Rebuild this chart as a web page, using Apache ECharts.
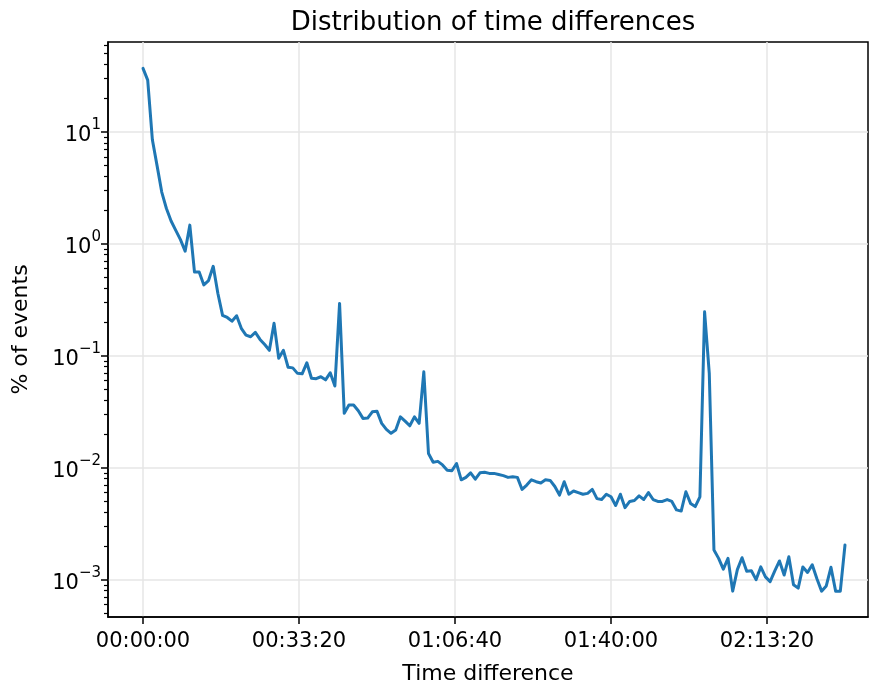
<!DOCTYPE html>
<html>
<head>
<meta charset="utf-8">
<script src="https://cdn.jsdelivr.net/npm/echarts@6/dist/echarts.min.js"></script>
<style>
  html, body { margin: 0; padding: 0; background: #fff; }
  #chart { width: 869px; height: 682px; }
</style>
</head>
<body>
<div id="chart"></div>
<script>
// Time difference bins (seconds, 1-minute bins)
const timeDiffSeconds = [
  0, 60, 120, 180, 240, 300, 360, 420, 480, 540,
  600, 660, 720, 780, 840, 900, 960, 1020, 1080, 1140,
  1200, 1260, 1320, 1380, 1440, 1500, 1560, 1620, 1680, 1740,
  1800, 1860, 1920, 1980, 2040, 2100, 2160, 2220, 2280, 2340,
  2400, 2460, 2520, 2580, 2640, 2700, 2760, 2820, 2880, 2940,
  3000, 3060, 3120, 3180, 3240, 3300, 3360, 3420, 3480, 3540,
  3600, 3660, 3720, 3780, 3840, 3900, 3960, 4020, 4080, 4140,
  4200, 4260, 4320, 4380, 4440, 4500, 4560, 4620, 4680, 4740,
  4800, 4860, 4920, 4980, 5040, 5100, 5160, 5220, 5280, 5340,
  5400, 5460, 5520, 5580, 5640, 5700, 5760, 5820, 5880, 5940,
  6000, 6060, 6120, 6180, 6240, 6300, 6360, 6420, 6480, 6540,
  6600, 6660, 6720, 6780, 6840, 6900, 6960, 7020, 7080, 7140,
  7200, 7260, 7320, 7380, 7440, 7500, 7560, 7620, 7680, 7740,
  7800, 7860, 7920, 7980, 8040, 8100, 8160, 8220, 8280, 8340,
  8400, 8460, 8520, 8580, 8640, 8700, 8760, 8820, 8880, 8940,
  9000
];

// Share of events per bin (%)
const pctEvents = [
  37, 29, 8.5, 5.0, 2.9, 2.07, 1.6, 1.32, 1.09, 0.86,
  1.47, 0.56, 0.56, 0.43, 0.47, 0.63, 0.36, 0.23, 0.22, 0.204,
  0.228, 0.176, 0.153, 0.148, 0.162, 0.14, 0.126, 0.112, 0.195, 0.095,
  0.112, 0.079, 0.078, 0.0697, 0.069, 0.0866, 0.063, 0.0625, 0.065, 0.061,
  0.0705, 0.0537, 0.294, 0.0306, 0.0363, 0.0363, 0.0323, 0.0276, 0.0278, 0.0316,
  0.032, 0.0249, 0.022, 0.0203, 0.0217, 0.0285, 0.0261, 0.0237, 0.0285, 0.0249,
  0.072, 0.0134, 0.0112, 0.0114, 0.0106, 0.0095, 0.0094, 0.0109, 0.0078, 0.0082,
  0.009, 0.0079, 0.009, 0.0091, 0.0089, 0.0089, 0.0087, 0.0085, 0.0082, 0.0083,
  0.0082, 0.0064, 0.0070, 0.0078, 0.0075, 0.0073, 0.0078, 0.0077, 0.0068, 0.0057,
  0.0075, 0.0058, 0.0062, 0.006, 0.0058, 0.0059, 0.0064, 0.0053, 0.0052, 0.0058,
  0.0055, 0.0046, 0.0058, 0.0044, 0.005, 0.0051, 0.0056, 0.0052, 0.006, 0.0052,
  0.005, 0.005, 0.0052, 0.005, 0.0042, 0.0041, 0.0061, 0.0048, 0.0045, 0.0055,
  0.247, 0.0697, 0.00184, 0.00155, 0.00124, 0.00155, 0.00079, 0.00123, 0.00157, 0.00119,
  0.0012, 0.001, 0.0013, 0.00106, 0.00096, 0.0012, 0.00147, 0.0011, 0.0016, 0.0009,
  0.00084, 0.0013, 0.00116, 0.00136, 0.00102, 0.00079, 0.00088, 0.00129, 0.00079, 0.00079,
  0.00204
];

// Tick positions
const xTickSeconds = [0, 2000, 4000, 6000, 8000];
const yMajorTicks = [1e-3, 1e-2, 1e-1, 1, 10];
const yMinorMultipliers = [2, 3, 4, 5, 6, 7, 8, 9];
const yDecades = [-4, -3, -2, -1, 0, 1];

const X_MIN = -449, X_MAX = 9295;
const Y_MIN = 4.64e-4, Y_MAX = 63.6;

const yMinorTicks = [];
yDecades.forEach(function (d) {
  yMinorMultipliers.forEach(function (m) {
    const v = m * Math.pow(10, d);
    if (v > Y_MIN && v < Y_MAX) yMinorTicks.push(v);
  });
});

const FONT = 'DejaVu Sans';

function pad2(n) { return (n < 10 ? '0' : '') + n; }
function formatHMS(sec) {
  const s = Math.round(sec);
  const h = Math.floor(s / 3600);
  const m = Math.floor((s % 3600) / 60);
  return pad2(h) + ':' + pad2(m) + ':' + pad2(s % 60);
}
function formatPow(v) {
  const e = Math.round(Math.log10(v));
  const exp = e < 0 ? '\u2212' + (-e) : String(e);
  return '{base|10}{sup|' + exp + '}';
}

const seriesData = timeDiffSeconds.map(function (t, i) { return [t, pctEvents[i]]; });

const chart = echarts.init(document.getElementById('chart'), null, { renderer: 'canvas' });

chart.setOption({
  animation: false,
  backgroundColor: '#ffffff',
  title: {
    text: 'Distribution of time differences',
    left: 488,
    top: 5,
    textAlign: 'center',
    textStyle: { fontFamily: FONT, fontSize: 26, fontWeight: 'normal', color: '#000' }
  },
  grid: {
    left: 108, right: 1, top: 42, bottom: 65,
    show: true,
    borderColor: '#000',
    borderWidth: 1.5,
    containLabel: false,
    outerBoundsMode: 'none'
  },
  xAxis: {
    type: 'value',
    min: X_MIN,
    max: X_MAX,
    name: 'Time difference',
    nameLocation: 'middle',
    nameGap: 46,
    nameTextStyle: { fontFamily: FONT, fontSize: 22, color: '#000' },
    axisLine: { show: true, onZero: false, lineStyle: { color: '#000', width: 1.5 } },
    axisTick: { show: true, length: 7, customValues: xTickSeconds, lineStyle: { color: '#000', width: 1.5 } },
    axisLabel: {
      customValues: xTickSeconds,
      margin: 14,
      fontFamily: FONT, fontSize: 21, color: '#000',
      formatter: function (v) { return formatHMS(v); }
    },
    splitLine: { show: true, lineStyle: { color: '#e6e6e6', width: 1.5 } }
  },
  yAxis: [
    {
      type: 'log',
      logBase: 10,
      min: Y_MIN,
      max: Y_MAX,
      name: '% of events',
      nameLocation: 'middle',
      nameRotate: 90,
      nameGap: 76,
      nameTextStyle: { fontFamily: FONT, fontSize: 22, color: '#000' },
      axisLine: { show: true, onZero: false, lineStyle: { color: '#000', width: 1.5 } },
      axisTick: { show: true, length: 7, customValues: yMajorTicks, lineStyle: { color: '#000', width: 1.5 } },
      axisLabel: {
        customValues: yMajorTicks,
        margin: 7,
        formatter: formatPow,
        rich: {
          base: { fontFamily: FONT, fontSize: 21, color: '#000', lineHeight: 28, verticalAlign: 'bottom' },
          sup: { fontFamily: FONT, fontSize: 15, color: '#000', lineHeight: 15, verticalAlign: 'top' }
        }
      },
      splitLine: { show: true, lineStyle: { color: '#e6e6e6', width: 1.5 } }
    },
    {
      type: 'log',
      logBase: 10,
      min: Y_MIN,
      max: Y_MAX,
      position: 'left',
      axisLine: { show: false, onZero: false },
      axisTick: { show: true, length: 4, customValues: yMinorTicks, lineStyle: { color: '#000', width: 1.2 } },
      axisLabel: { show: false },
      splitLine: { show: false }
    }
  ],
  series: [
    {
      type: 'line',
      yAxisIndex: 0,
      data: seriesData,
      showSymbol: false,
      symbol: 'none',
      lineStyle: { color: '#1f77b4', width: 3, join: 'round', cap: 'round' },
      z: 3
    }
  ]
});
</script>
</body>
</html>
